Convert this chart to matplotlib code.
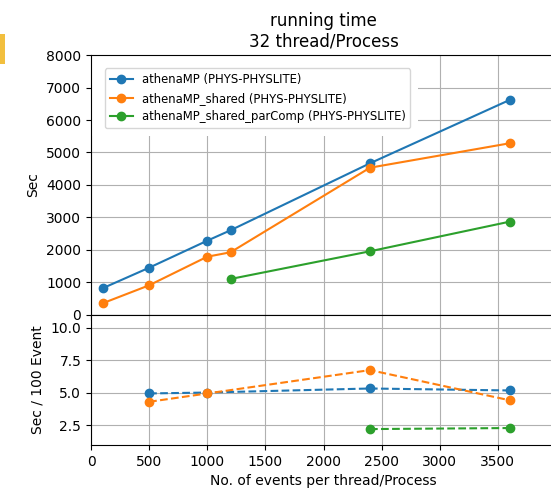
import matplotlib
matplotlib.use('Agg')
import matplotlib.pyplot as plt
from matplotlib.patches import Rectangle

# events per thread/process
x_mp = [100, 500, 1000, 1200, 2400, 3600]
x_shared = [100, 500, 1000, 1200, 2400, 3600]
x_parcomp = [1200, 2400, 3600]

# running time (sec)
t_mp = [810, 1444, 2278, 2599, 4667, 6620]
t_shared = [346, 901, 1784, 1920, 4531, 5284]
t_parcomp = [1096, 1951, 2864]

# sec / 100 event
xr_mp = [500, 1000, 2400, 3600]
xr_shared = [500, 1000, 2400, 3600]
xr_parcomp = [2400, 3600]
r_mp = [4.95, 5.02, 5.33, 5.18]
r_shared = [4.31, 4.95, 6.74, 4.43]
r_parcomp = [2.22, 2.30]

labels = ['athenaMP (PHYS-PHYSLITE)',
          'athenaMP_shared (PHYS-PHYSLITE)',
          'athenaMP_shared_parComp (PHYS-PHYSLITE)']

fig = plt.figure(figsize=(5.51, 4.90), dpi=100)
left, right = 91 / 551, 556 / 551
top, mid, bot = 1 - 55.3 / 490, 1 - 314.5 / 490, 1 - 445 / 490
ax1 = fig.add_axes([left, mid, right - left, top - mid])
ax2 = fig.add_axes([left, bot, right - left, mid - bot], sharex=ax1)

ax1.plot(x_mp, t_mp, 'o-', color='C0', label=labels[0])
ax1.plot(x_shared, t_shared, 'o-', color='C1', label=labels[1])
ax1.plot(x_parcomp, t_parcomp, 'o-', color='C2', label=labels[2])
ax1.set_ylim(0, 8000)
ax1.set_ylabel('Sec')
ax1.set_title('running time\n32 thread/Process')
ax1.grid(True)
ax1.tick_params(labelbottom=False)
# blank area behind the legend
ax1.add_patch(Rectangle((0, 0.69), 0.703, 0.31, transform=ax1.transAxes,
                        facecolor='white', edgecolor='none', zorder=1.8))
ax1.legend(loc='upper left', bbox_to_anchor=(0.03, 0.95), borderaxespad=0,
           fontsize='small')

ax2.plot(xr_mp, r_mp, 'o--', color='C0')
ax2.plot(xr_shared, r_shared, 'o--', color='C1')
ax2.plot(xr_parcomp, r_parcomp, 'o--', color='C2')
ax2.set_ylim(1, 11)
ax2.set_yticks([2.5, 5.0, 7.5, 10.0])
ax2.set_xlim(0, 4000)
ax2.set_xticks([0, 500, 1000, 1500, 2000, 2500, 3000, 3500])
ax2.set_ylabel('Sec / 100 Event')
ax2.set_xlabel('No. of events per thread/Process')
ax2.grid(True)

fig.align_ylabels([ax1, ax2])

# yellow mark at the left edge
fig.patches.append(Rectangle((0, 1 - 64.5 / 490), 4.5 / 551, 30.5 / 490,
                             transform=fig.transFigure, facecolor='#f2bf3e',
                             edgecolor='none'))

fig.savefig('out.png', dpi=100)
